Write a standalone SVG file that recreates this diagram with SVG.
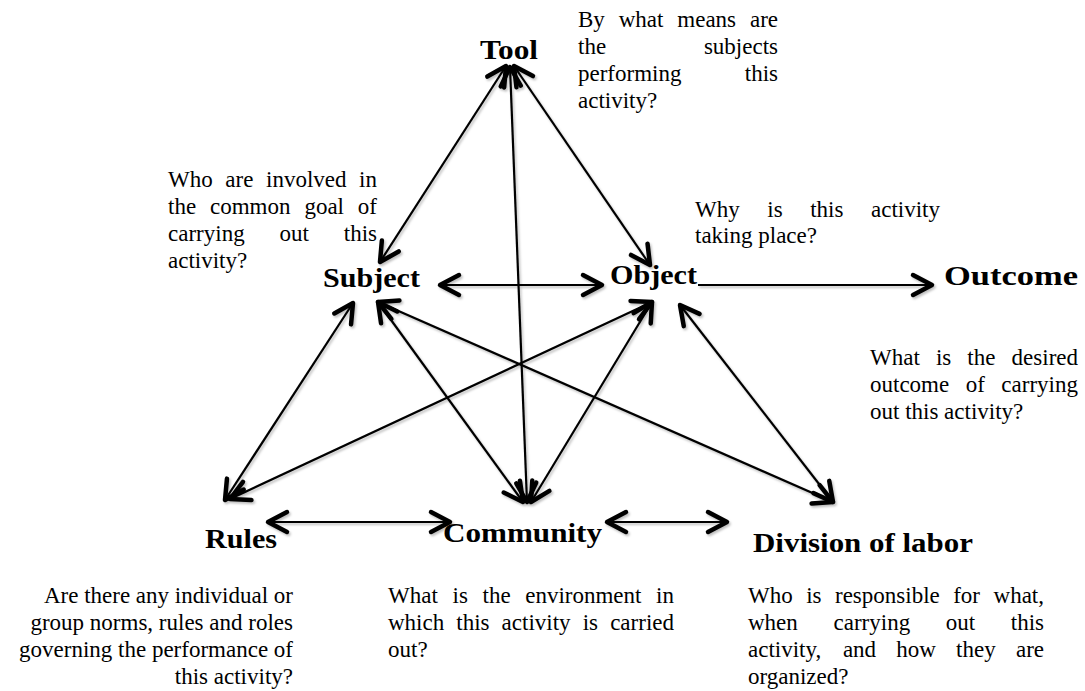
<svg xmlns="http://www.w3.org/2000/svg" width="1085" height="691" viewBox="0 0 1085 691">
<defs>
<style>
.q{font-family:"Liberation Serif","Times New Roman",serif;font-size:23px;fill:#000}
.e{text-anchor:end}
.lbl{font-family:"Liberation Serif","Times New Roman",serif;font-weight:bold;font-size:28px;fill:#000}
.c{stroke:#000;stroke-width:2.2;fill:none;marker-end:url(#ah)}
.d{marker-start:url(#ah)}
</style>
<marker id="ah" viewBox="-24 -14 28 28" refX="0" refY="0" markerWidth="28" markerHeight="28" markerUnits="userSpaceOnUse" orient="auto-start-reverse" overflow="visible">
<path d="M-19,-10 L0,0 L-19,10" fill="none" stroke="#000" stroke-width="4.5" stroke-linecap="round" stroke-linejoin="round"/>
</marker>
<filter id="sh" filterUnits="userSpaceOnUse" x="0" y="0" width="1085" height="691">
<feDropShadow dx="1.5" dy="2" stdDeviation="1.2" flood-color="#000" flood-opacity="0.25"/>
</filter>
</defs>
<rect width="1085" height="691" fill="#fff"/>

<g id="connectors" filter="url(#sh)">
<line class="c d" x1="506" y1="66" x2="380" y2="262"/>
<line class="c d" x1="514" y1="66" x2="650" y2="265"/>
<line class="c d" x1="510" y1="67" x2="527" y2="502"/>
<line class="c d" x1="440" y1="285" x2="602" y2="285"/>
<line class="c" x1="698" y1="285" x2="932" y2="285"/>
<line class="c d" x1="353" y1="303" x2="225" y2="500"/>
<line class="c d" x1="652" y1="302" x2="230" y2="499"/>
<line class="c d" x1="378" y1="302" x2="523" y2="502"/>
<line class="c d" x1="652" y1="302" x2="531" y2="502"/>
<line class="c d" x1="378" y1="302" x2="833" y2="502"/>
<line class="c d" x1="680" y1="305" x2="833" y2="502"/>
<line class="c d" x1="268" y1="522" x2="450" y2="522"/>
<line class="c d" x1="607" y1="522" x2="727" y2="522"/>
</g>

<g id="tool">
<text class="lbl" x="480" y="59" textLength="58" lengthAdjust="spacingAndGlyphs">Tool</text>
<text class="q" y="27"><tspan x="578">By</tspan><tspan x="618.7">what</tspan><tspan x="677.3">means</tspan><tspan x="778" text-anchor="end">are</tspan></text>
<text class="q" y="54"><tspan x="578">the</tspan><tspan x="778" text-anchor="end">subjects</tspan></text>
<text class="q" y="81"><tspan x="578">performing</tspan><tspan x="778" text-anchor="end">this</tspan></text>
<text class="q" x="578" y="108">activity?</text>
</g>

<g id="subject">
<text class="lbl" x="323" y="287" textLength="97" lengthAdjust="spacingAndGlyphs">Subject</text>
<text class="q" y="187"><tspan x="168">Who</tspan><tspan x="225.3">are</tspan><tspan x="266">involved</tspan><tspan x="377" text-anchor="end">in</tspan></text>
<text class="q" y="214"><tspan x="168">the</tspan><tspan x="210">common</tspan><tspan x="304.4">goal</tspan><tspan x="377" text-anchor="end">of</tspan></text>
<text class="q" y="241"><tspan x="168">carrying</tspan><tspan x="279.5">out</tspan><tspan x="377" text-anchor="end">this</tspan></text>
<text class="q" x="168" y="268">activity?</text>
</g>

<g id="object">
<text class="lbl" x="610" y="284" textLength="87" lengthAdjust="spacingAndGlyphs">Object</text>
<text class="q" y="217"><tspan x="695">Why</tspan><tspan x="767.3">is</tspan><tspan x="810.2">this</tspan><tspan x="940" text-anchor="end">activity</tspan></text>
<text class="q" x="695" y="243">taking place?</text>
</g>

<g id="outcome">
<text class="lbl" x="944" y="285" textLength="134" lengthAdjust="spacingAndGlyphs">Outcome</text>
<text class="q" y="365"><tspan x="870">What</tspan><tspan x="935.9">is</tspan><tspan x="967.3">the</tspan><tspan x="1078" text-anchor="end">desired</tspan></text>
<text class="q" y="392"><tspan x="870">outcome</tspan><tspan x="965.7">of</tspan><tspan x="1078" text-anchor="end">carrying</tspan></text>
<text class="q" x="870" y="419">out this activity?</text>
</g>

<g id="rules">
<text class="lbl" x="205" y="548" textLength="72" lengthAdjust="spacingAndGlyphs">Rules</text>
<text class="q e" x="293" y="603">Are there any individual or</text>
<text class="q e" x="293" y="630">group norms, rules and roles</text>
<text class="q e" x="293" y="657">governing the performance of</text>
<text class="q e" x="293" y="684">this activity?</text>
</g>

<g id="community">
<text class="lbl" x="443" y="542" textLength="159" lengthAdjust="spacingAndGlyphs">Community</text>
<text class="q" y="603"><tspan x="388">What</tspan><tspan x="452.5">is</tspan><tspan x="482.5">the</tspan><tspan x="525.2">environment</tspan><tspan x="674" text-anchor="end">in</tspan></text>
<text class="q" y="630"><tspan x="388">which</tspan><tspan x="456.3">this</tspan><tspan x="501.6">activity</tspan><tspan x="582.7">is</tspan><tspan x="674" text-anchor="end">carried</tspan></text>
<text class="q" x="388" y="657">out?</text>
</g>

<g id="division">
<text class="lbl" x="753" y="552" textLength="220" lengthAdjust="spacingAndGlyphs">Division of labor</text>
<text class="q" y="603"><tspan x="748">Who</tspan><tspan x="806.2">is</tspan><tspan x="835">responsible</tspan><tspan x="953.2">for</tspan><tspan x="1044" text-anchor="end">what,</tspan></text>
<text class="q" y="630"><tspan x="748">when</tspan><tspan x="833.5">carrying</tspan><tspan x="945.8">out</tspan><tspan x="1044" text-anchor="end">this</tspan></text>
<text class="q" y="657"><tspan x="748">activity,</tspan><tspan x="842.9">and</tspan><tspan x="896.3">how</tspan><tspan x="956.1">they</tspan><tspan x="1044" text-anchor="end">are</tspan></text>
<text class="q" x="748" y="684">organized?</text>
</g>
</svg>
